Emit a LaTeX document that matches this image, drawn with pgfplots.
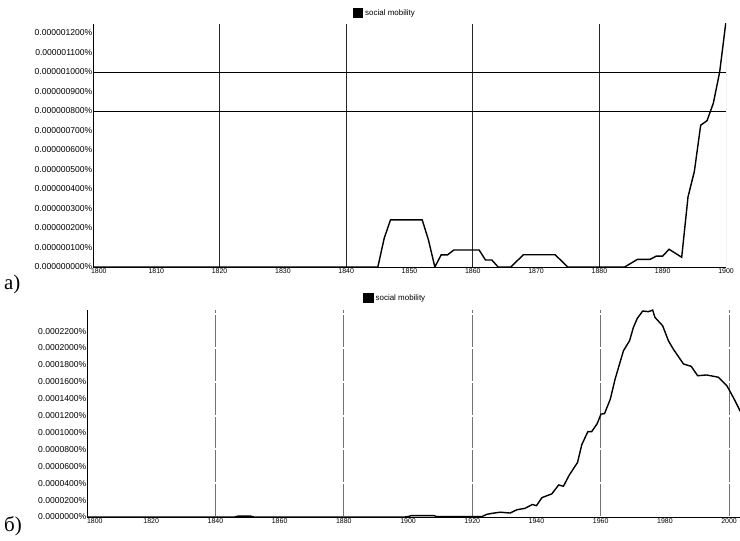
\documentclass[border=0pt]{standalone}
\usepackage{fontspec}
\setmainfont{Liberation Sans}
\newfontfamily\serifcyr{Liberation Serif}
\usepackage{pgfplots}
\usepackage{pgfplotstable}
\pgfplotsset{compat=1.18}

% top panel, values in units of 1e-7 %
\pgfplotstableread{
year val
1800 0
1845 0
1846 1.47
1847 2.42
1852 2.42
1853 1.38
1854 0
1855 0.62
1856 0.62
1857 0.87
1861 0.87
1862 0.36
1863 0.36
1864 0
1866 0
1868 0.63
1873 0.63
1875 0
1884 0
1886 0.39
1888 0.39
1889 0.56
1890 0.56
1891 0.91
1893 0.50
1894 3.6
1895 4.9
1896 7.27
1897 7.5
1898 8.4
1899 10.0
1900 12.6
}\topdata
% bottom panel, values in units of 1e-5 %
\pgfplotstableread{
year val
1800 0
1846 0
1847 0.1
1851 0.1
1852 0
1899 0
1900 0.05
1901 0.16
1908 0.16
1909 0.05
1923 0.05
1924.5 0.31
1926 0.42
1928.7 0.57
1931.8 0.47
1933.9 0.86
1936.4 1.02
1938.7 1.48
1940 1.34
1941.7 2.29
1944.8 2.74
1946.9 3.79
1948.4 3.64
1950.2 4.95
1952.8 6.46
1954.1 8.54
1956 10.1
1957.2 10.1
1958.9 11.04
1960.1 12.18
1961.2 12.24
1963 13.95
1964.5 16.33
1967.1 19.68
1969 20.86
1970.2 22.45
1971.4 23.51
1973.1 24.38
1974.9 24.3
1976.2 24.49
1976.9 23.63
1979.3 22.64
1981.1 20.86
1982.6 19.88
1985.8 18.11
1988.2 17.83
1990.2 16.72
1993 16.81
1996.7 16.54
1999.3 15.54
2001.3 14.16
2003.4 12.58
2004 12.18
}\botdata

\pgfplotsset{ngram/.style={
    scale only axis,
    axis x line*=bottom, axis y line*=left,
    axis line style={black, line width=0.8bp},
    major tick length=0pt,
    ymin=0,
    yticklabel style={font=\fontsize{8.6}{9}\selectfont, anchor=east, inner sep=0.5bp},
    xticklabel style={font=\fontsize{7}{8}\selectfont, inner sep=1bp},
    legend image code/.code={\fill[black] (0bp,-4.5bp) rectangle (9bp,4.5bp);},
    legend style={draw=none, fill=none, anchor=center, inner sep=0pt,
      font=\fontsize{8}{9}\selectfont},
    clip=true,
}}

\begin{document}
\begin{tikzpicture}
\path[use as bounding box] (0,0) rectangle (740bp,541bp);

\begin{axis}[ngram,
    at={(93bp,274bp)}, anchor=south west,
    width=633bp, height=243bp,
    xmin=1800, xmax=1900, ymax=12.46,
    xtick={1800,1810,...,1900},
    xticklabels={\makebox[0pt][l]{\hspace*{-2bp}\raisebox{-4bp}{1800}},1810,1820,1830,1840,1850,1860,1870,1880,1890,1900},
    ytick={0,1,...,12},
    yticklabels={0.000000000\%,0.000000100\%,0.000000200\%,0.000000300\%,
      0.000000400\%,0.000000500\%,0.000000600\%,0.000000700\%,0.000000800\%,
      0.000000900\%,0.000001000\%,0.000001100\%,0.000001200\%},
    extra x ticks={1820,1840,1860,1880},
    extra x tick labels={},
    extra x tick style={grid=major, major grid style={black!85, line width=0.8bp}},
    extra y ticks={8,10},
    extra y tick labels={},
    extra y tick style={grid=major, major grid style={black, line width=0.8bp}},
    legend style={at={(0.461,1.045)}},
  ]
\addplot[black, line width=1.4bp] table[x=year, y=val] {\topdata};
\legend{social mobility}
\draw[black!45, line width=0.8bp] (axis cs:1900,0) -- (axis cs:1900,11.2);
\end{axis}

\begin{axis}[ngram,
    at={(87bp,24bp)}, anchor=south west,
    width=653bp, height=207bp,
    xmin=1800, xmax=2003.4, ymax=24.5,
    xtick={1800,1820,...,2000},
    xticklabels={\makebox[0pt][l]{\raisebox{-2bp}{1800}},1820,1840,1860,1880,1900,1920,1940,1960,1980,2000},
    ytick={0,2,...,22},
    yticklabels={0.0000000\%,0.0000200\%,0.0000400\%,0.0000600\%,0.0000800\%,
      0.0001000\%,0.0001200\%,0.0001400\%,0.0001600\%,0.0001800\%,0.0002000\%,
      0.0002200\%},
    extra x ticks={1840,1880,1920,1960,2000},
    extra x tick labels={},
    extra x tick style={grid=major, major grid style={black!55, line width=0.9bp,
      dash pattern=on 31.8bp off 2bp, dash phase=32.8bp}},
    legend style={at={(0.472,1.058)}},
  ]
\addplot[black, line width=1.4bp] table[x=year, y=val] {\botdata};
\legend{social mobility}
\end{axis}

\node[anchor=base west, inner sep=0pt, font=\serifcyr\fontsize{21}{22}\selectfont]
  at (4bp,251bp) {а)};
\node[anchor=base west, inner sep=0pt, font=\serifcyr\fontsize{21}{22}\selectfont]
  at (4bp,10bp) {б)};
\end{tikzpicture}
\end{document}
